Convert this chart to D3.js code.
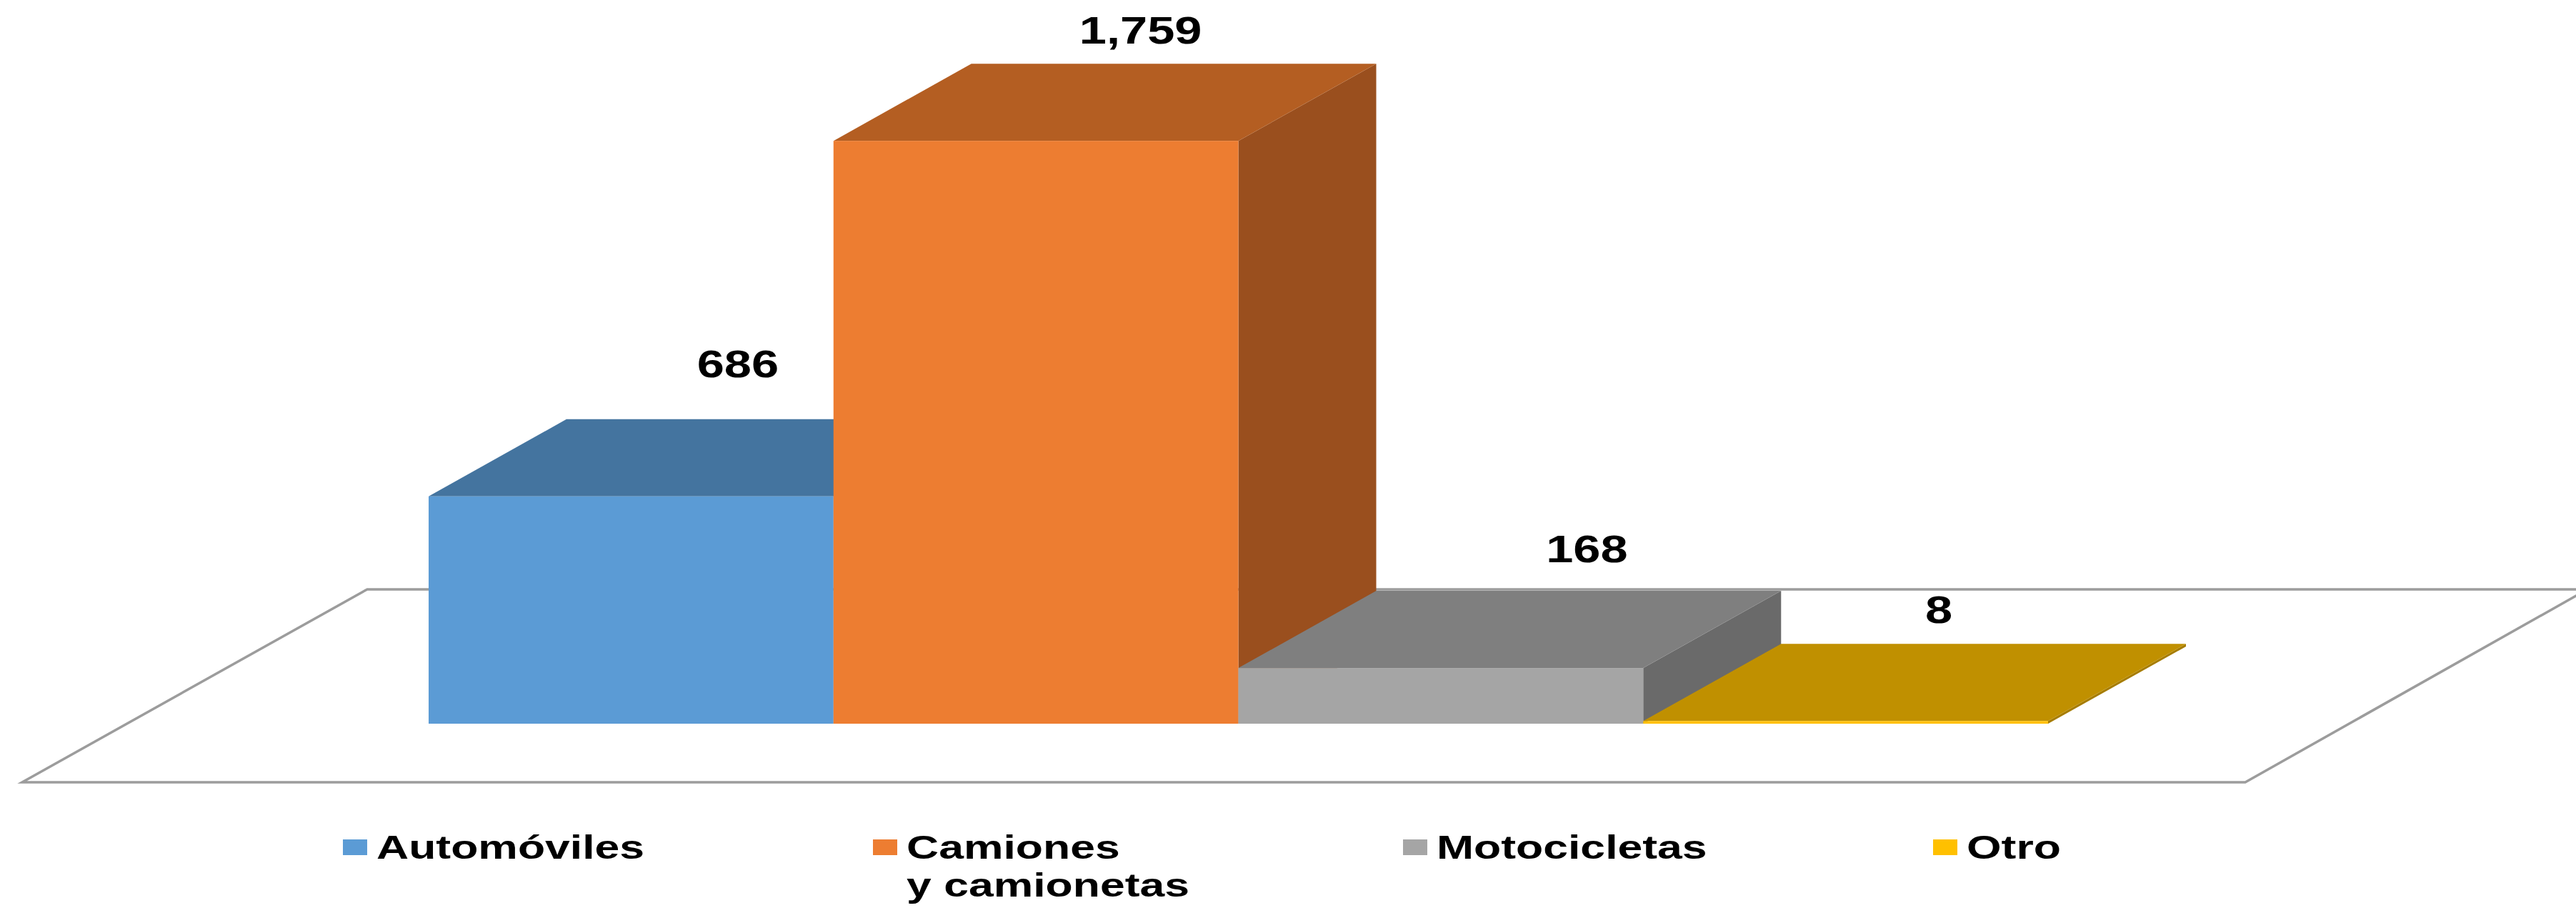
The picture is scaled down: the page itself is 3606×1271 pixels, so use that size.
<!DOCTYPE html>
<html>
<head>
<meta charset="utf-8">
<script src="https://cdn.jsdelivr.net/npm/d3@7"></script>
<style>
  html, body { margin: 0; padding: 0; background: #ffffff; }
  svg { display: block; }
  text { font-family: "Liberation Sans", Arial, sans-serif; font-weight: bold; fill: #000; }
</style>
</head>
<body>
<svg id="chart" width="3606" height="1271"></svg>
<script>
// ---- data ----
const categories = ["Automóviles", "Camiones y camionetas", "Motocicletas", "Otro"];
const legendLines = [["Automóviles"], ["Camiones", "y camionetas"], ["Motocicletas"], ["Otro"]];
const values = [686, 1759, 168, 8];
const valueLabels = ["686", "1,759", "168", "8"];

// ---- styles ----
const frontColors = ["#5B9BD5", "#ED7D31", "#A5A5A5", "#FFC000"];
const topColors   = ["#44749F", "#B45E22", "#7F7F7F", "#C09000"];
const sideColors  = ["#3A6690", "#9A4F1E", "#6A6A6A", "#A67C00"];

// ---- layout ----
const W = 3606, H = 1271;
const baseY = 1013;
const depthX = 193, depthY = -108;
const labelNudgeX = [53, 50, 108, 34];
const labelNudgeY = [-59, -28, -40, -29];
const textStretch = 1.27;

const svg = d3.select("#chart");

const x = d3.scaleBand().domain(categories).range([600, 2867]).padding(0);
const y = d3.scaleLinear().domain([0, 2000]).range([baseY, baseY - 927.6]);

// floor
const floorPts = [[31, 1095], [3143, 1095], [3622, 825], [514, 825]];
svg.append("polygon")
  .attr("points", floorPts.map(p => p.join(",")).join(" "))
  .attr("fill", "#ffffff")
  .attr("stroke", "#9c9c9c")
  .attr("stroke-width", 3.5)
  .attr("stroke-linejoin", "miter");

// bars (left to right so later ones overlap earlier ones)
const bw = x.bandwidth();
const g = svg.append("g");
categories.forEach((c, i) => {
  const x0 = x(c), x1 = x0 + bw;
  const yt = y(values[i]);
  const yb = y(0);
  const bar = g.append("g");
  // side face
  bar.append("polygon")
    .attr("points", [[x1, yb], [x1 + depthX, yb + depthY], [x1 + depthX, yt + depthY], [x1, yt]].map(p => p.join(",")).join(" "))
    .attr("fill", sideColors[i]);
  // top face
  bar.append("polygon")
    .attr("points", [[x0, yt], [x1, yt], [x1 + depthX, yt + depthY], [x0 + depthX, yt + depthY]].map(p => p.join(",")).join(" "))
    .attr("fill", topColors[i]);
  // front face
  bar.append("rect")
    .attr("x", x0).attr("y", yt)
    .attr("width", bw).attr("height", Math.max(yb - yt, 1.5))
    .attr("fill", frontColors[i]);
});

// value labels
categories.forEach((c, i) => {
  const cx = x(c) + bw / 2 + depthX / 2 + labelNudgeX[i];
  const cy = y(values[i]) + depthY + labelNudgeY[i];
  svg.append("text")
    .attr("transform", `translate(${cx},${cy}) scale(${textStretch},1)`)
    .attr("text-anchor", "middle")
    .attr("font-size", 54)
    .text(valueLabels[i]);
});

// legend
const legendX0 = 480, legendStep = 742;
const legend = svg.append("g");
categories.forEach((c, i) => {
  const lx = legendX0 + i * legendStep;
  legend.append("rect")
    .attr("x", lx).attr("y", 1175)
    .attr("width", 34).attr("height", 22)
    .attr("fill", frontColors[i]);
  const t = legend.append("text")
    .attr("transform", `translate(${lx + 47},1202) scale(1.33,1)`)
    .attr("font-size", 47);
  legendLines[i].forEach((line, k) => {
    t.append("tspan").attr("x", 0).attr("dy", k === 0 ? 0 : 53).text(line);
  });
});
</script>
</body>
</html>
